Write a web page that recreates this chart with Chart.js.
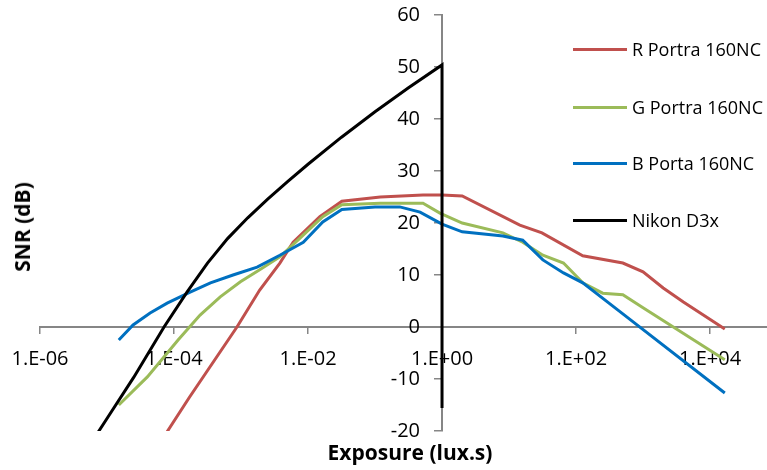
<!DOCTYPE html>
<html>
<head>
<meta charset="utf-8">
<script src="https://cdn.jsdelivr.net/npm/chart.js@4.4.1/dist/chart.umd.min.js"></script>
<style>
  body { margin: 0; background: #fff; }
  #wrap { position: relative; width: 767px; height: 470px; font-family: "Open Sans", sans-serif; color: #000; }
  #snr_chart { position: absolute; left: 0; top: 0; }
  .ytitle { position: absolute; left: 22px; top: 227px; transform: translate(-50%, -50%) rotate(-90deg); font-weight: bold; font-size: 21px; white-space: nowrap; }
  .xtitle { position: absolute; left: 410px; top: 452px; transform: translate(-50%, -50%); font-weight: bold; font-size: 21px; white-space: nowrap; }
  .item { position: absolute; left: 573px; height: 26px; display: flex; align-items: center; white-space: nowrap; font-size: 18px; }
  .swatch { width: 54px; height: 3px; margin-right: 5px; }
</style>
</head>
<body>
<div id="wrap">
  <canvas id="snr_chart" width="767" height="470"></canvas>
  <div class="ytitle">SNR (dB)</div>
  <div class="xtitle">Exposure (lux.s)</div>
  <div id="legend"></div>
</div>
<script>
// series
var seriesNames = ['R Portra 160NC', 'G Portra 160NC', 'B Porta 160NC', 'Nikon D3x'];
var seriesColors = ['#C0504D', '#9BBB59', '#0070C0', '#000000'];

// exposure (lux.s) / SNR (dB)
var redExposure = [4.4e-5, 1.7e-4, 8.7e-4, 1.9e-3, 3.8e-3, 6.0e-3, 0.015, 0.032, 0.12, 0.52, 1, 2.0, 14.5, 31, 126, 500, 1000, 2000, 4000, 16600];
var redSnr      = [-25.2, -13.5, 0, 7.1, 12.3, 16.3, 21.2, 24.2, 25.0, 25.4, 25.4, 25.2, 19.6, 18.1, 13.7, 12.3, 10.6, 7.5, 4.8, -0.4];

var greenExposure = [1.5e-5, 4.0e-5, 1.15e-4, 2.45e-4, 4.9e-4, 9.8e-4, 1.9e-3, 3.8e-3, 7.6e-3, 0.0166, 0.032, 0.12, 0.52, 0.93, 2.0, 8.1, 16, 32, 65, 126, 250, 500, 1000, 16600];
var greenSnr      = [-15.0, -9.6, -2.5, 2.3, 5.8, 8.7, 11.0, 13.5, 17.1, 21.2, 23.5, 23.8, 23.8, 21.9, 20.0, 18.1, 16.3, 13.8, 12.3, 8.5, 6.5, 6.2, 3.7, -6.3];

var blueExposure = [1.5e-5, 2.45e-5, 4.4e-5, 7.9e-5, 1.74e-4, 3.5e-4, 7.6e-4, 1.74e-3, 3.8e-3, 8.5e-3, 0.0166, 0.032, 0.1, 0.234, 0.47, 1, 2.0, 8.1, 16, 32, 65, 126, 457, 16600];
var blueSnr      = [-2.5, 0.4, 2.7, 4.6, 6.7, 8.5, 10.0, 11.5, 13.8, 16.3, 20.2, 22.6, 23.1, 23.1, 22.1, 19.8, 18.3, 17.5, 16.7, 12.9, 10.4, 8.5, 2.9, -12.7];

var nikonExposure = [4.0e-6, 1e-5, 2.5e-5, 7.1e-5, 1.58e-4, 3.16e-4, 6.3e-4, 1.26e-3, 2.5e-3, 5.0e-3, 0.01, 0.0316, 0.1, 0.316, 1, 1];
var nikonSnr      = [-25.5, -17.6, -9.7, 0, 6.8, 12.3, 17.0, 21.0, 24.6, 28.0, 31.3, 36.5, 41.4, 46.0, 50.4, -15.6];

// axes
var xTickValues = [1e-6, 1e-4, 1e-2, 1, 1e2, 1e4];
var yTickValues = [-20, -10, 0, 10, 20, 30, 40, 50, 60];
var xMin = 1e-6, xMax = 7.08e4;

function pairs(xs, ys) {
  return xs.map(function (x, i) { return {x: x, y: ys[i]}; });
}

function expLabel(v) {
  var e = Math.round(Math.log10(v));
  return '1.E' + (e < 0 ? '-' : '+') + String(Math.abs(e)).padStart(2, '0');
}

var allX = [redExposure, greenExposure, blueExposure, nikonExposure];
var allY = [redSnr, greenSnr, blueSnr, nikonSnr];
var drawOrder = [3, 2, 1, 0];

var datasets = seriesNames.map(function (name, i) {
  return {
    label: name,
    data: pairs(allX[i], allY[i]),
    borderColor: seriesColors[i],
    backgroundColor: seriesColors[i],
    borderWidth: 3,
    pointRadius: 0,
    showLine: true,
    tension: 0,
    order: drawOrder[i]
  };
});

var axisGray = '#868686';
var tickFont = '20px "Open Sans"';

// y labels sit left of the crossing axis with a gap (chart.js puts them flush)
var yLabelPlugin = {
  id: 'yLabels',
  beforeDatasetsDraw: function (chart) {
    var ctx = chart.ctx;
    var ax = chart.scales.x.getPixelForValue(1);
    ctx.save();
    ctx.font = tickFont;
    ctx.fillStyle = '#000';
    ctx.textAlign = 'right';
    ctx.textBaseline = 'middle';
    yTickValues.forEach(function (v) {
      ctx.fillText(String(v), ax - 22, chart.scales.y.getPixelForValue(v));
    });
    ctx.restore();
  }
};

new Chart(document.getElementById('snr_chart'), {
  type: 'scatter',
  data: { datasets: datasets },
  plugins: [yLabelPlugin],
  options: {
    responsive: false,
    animation: false,
    layout: { padding: { left: 40, right: 0, top: 15, bottom: 39 } },
    plugins: { legend: { display: false }, tooltip: { enabled: false } },
    scales: {
      x: {
        type: 'logarithmic',
        min: xMin,
        max: xMax,
        position: { y: 0 },
        afterBuildTicks: function (axis) {
          axis.ticks = xTickValues.map(function (v) { return {value: v, major: true}; });
        },
        grid: { drawOnChartArea: false, drawTicks: true, tickLength: 6, color: axisGray, lineWidth: 1.5 },
        border: { color: axisGray, width: 2 },
        ticks: {
          color: '#000',
          padding: 9,
          maxRotation: 0,
          autoSkip: false,
          font: { family: 'Open Sans', size: 20, lineHeight: 1.7 },
          callback: function (v) { return expLabel(v); }
        }
      },
      y: {
        type: 'linear',
        min: -20,
        max: 60,
        position: { x: 1 },
        afterBuildTicks: function (axis) {
          axis.ticks = yTickValues.map(function (v) { return {value: v}; });
        },
        grid: { drawOnChartArea: false, drawTicks: true, tickLength: 7, color: axisGray, lineWidth: 1.5 },
        border: { color: axisGray, width: 2 },
        ticks: { display: false }
      }
    }
  }
});

// legend on the right
var legendTops = [49, 107, 163, 220];
var legend = document.getElementById('legend');
seriesNames.forEach(function (name, i) {
  var item = document.createElement('div');
  item.className = 'item';
  item.style.top = (legendTops[i] - 13) + 'px';
  item.innerHTML = '<span class="swatch" style="background:' + seriesColors[i] + '"></span>' + name;
  legend.appendChild(item);
});
</script>
</body>
</html>
